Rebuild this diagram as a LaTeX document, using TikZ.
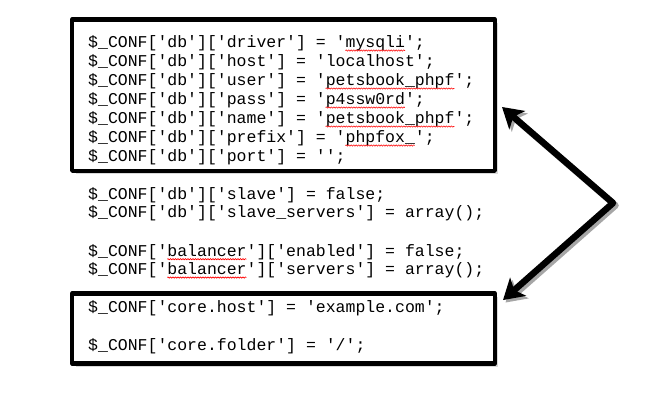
\documentclass[tikz,border=0pt]{standalone}
\usepackage{fontspec}
\setmonofont{Liberation Mono}
\usetikzlibrary{arrows.meta,shadows,decorations.pathmorphing}

\begin{document}
\begin{tikzpicture}[x=1bp,y=-1bp,line join=round,
	code/.style={anchor=base west,inner sep=0pt,font=\ttfamily\fontsize{16.5bp}{19bp}\selectfont},
	cfgbox/.style={draw,line width=4.5bp,fill=white,minimum width=422.5bp,
		drop shadow={shadow xshift=3.5bp,shadow yshift=-3.5bp,opacity=.3}},
	typo/.style={red,line width=.6bp,decorate,decoration={snake,amplitude=.7bp,segment length=2.5bp}},
	bigarrow/.style={line width=6.5bp,{Stealth[length=20bp,width=24bp,inset=5bp]}-{Stealth[length=20bp,width=24bp,inset=5bp]}}]
		\useasboundingbox (0,0) rectangle (650,407);
		\node[cfgbox,minimum height=151.5bp] (dbbox) at (283.5,95) {};
		\node[cfgbox,minimum height=70bp] (corebox) at (283.5,328.3) {};
		% database settings
		\node[code] (db1) at (88,47.5) {\$\_CONF['db']['driver'] = 'mysqli';};
		\node[code] (db2) at (88,66.5) {\$\_CONF['db']['host'] = 'localhost';};
		\node[code] (db3) at (88,85.5) {\$\_CONF['db']['user'] = 'petsbook\_phpf';};
		\node[code] (db4) at (88,104.5) {\$\_CONF['db']['pass'] = 'p4ssw0rd';};
		\node[code] (db5) at (88,123.5) {\$\_CONF['db']['name'] = 'petsbook\_phpf';};
		\node[code] (db6) at (88,142.5) {\$\_CONF['db']['prefix'] = 'phpfox\_';};
		\node[code] (db7) at (88,161.5) {\$\_CONF['db']['port'] = '';};
		% slave and balancer
		\node[code] (sl1) at (88,199.5) {\$\_CONF['db']['slave'] = false;};
		\node[code] (sl2) at (88,217.8) {\$\_CONF['db']['slave\_servers'] = array();};
		\node[code] (bal1) at (88,256.2) {\$\_CONF['balancer']['enabled'] = false;};
		\node[code] (bal2) at (88,274.5) {\$\_CONF['balancer']['servers'] = array();};
		% core settings
		\node[code] (core1) at (88,312.8) {\$\_CONF['core.host'] = 'example.com';};
		\node[code] (core2) at (88,350.2) {\$\_CONF['core.folder'] = '/';};
		% spelling marks
		\draw[typo] (345.4,50.5)--(405,50.5);
		\draw[typo] (325.6,88.5)--(454.3,88.5);
		\draw[typo] (325.6,107.5)--(404.8,107.5);
		\draw[typo] (325.6,126.5)--(454.3,126.5);
		\draw[typo] (345.4,145.5)--(414.7,145.5);
		\draw[typo] (167.2,259.2)--(246.4,259.2);
		\draw[typo] (167.2,277.5)--(246.4,277.5);
		% arrow
		\coordinate (bend) at (613,203);
		\draw[bigarrow,black!35,transform canvas={xshift=2.5bp,yshift=-2.5bp}] ([xshift=5bp,yshift=-12bp]dbbox.east)--(bend)--([xshift=6bp,yshift=-9bp]corebox.north east);
		\draw[bigarrow] ([xshift=5bp,yshift=-12bp]dbbox.east)--(bend)--([xshift=6bp,yshift=-9bp]corebox.north east);
\end{tikzpicture}
\end{document}
